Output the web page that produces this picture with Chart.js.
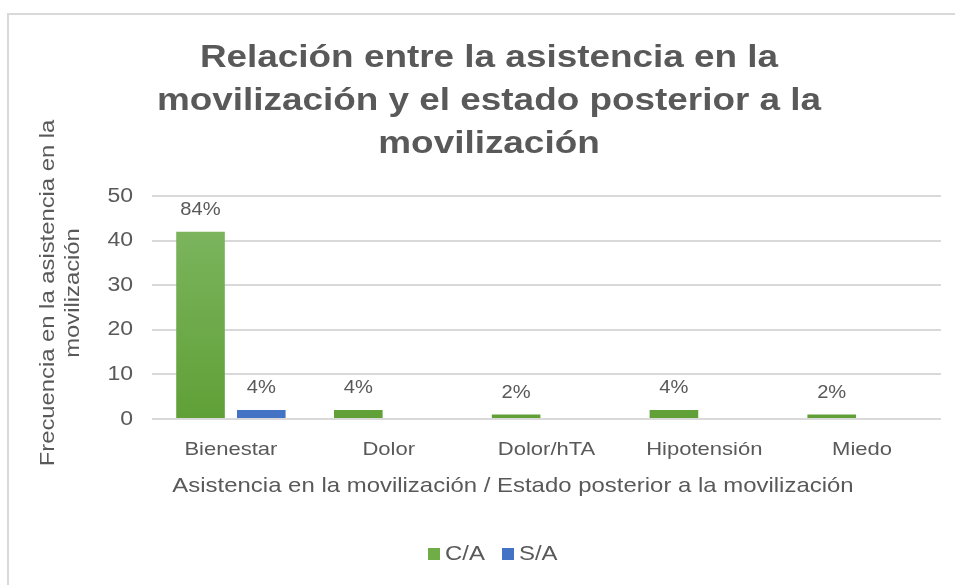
<!DOCTYPE html>
<html>
<head>
<meta charset="utf-8">
<script src="https://cdn.jsdelivr.net/npm/chart.js@4.4.1/dist/chart.umd.min.js"></script>
<style>
    html, body { margin: 0; padding: 0; background: #fff; }
    #wrap { position: relative; width: 955px; height: 585px; overflow: hidden; }
    #frame { position: absolute; left: 7px; top: 13px; width: 1000px; height: 700px; border: 2px solid #d9d9d9; box-sizing: border-box; }
    canvas { position: absolute; left: 0; top: 0; }
</style>
</head>
<body>
<div id="wrap">
    <div id="frame"></div>
    <canvas id="chart" width="955" height="585"></canvas>
</div>
<script>
// datos
const categorias = ["Bienestar", "Dolor", "Dolor/hTA", "Hipotensión", "Miedo"];
const conAsistencia = [42, 2, 1, 2, 1];
const sinAsistencia = [2, null, null, null, null];
const etiquetasCA = ["84%", "4%", "2%", "4%", "2%"];
const etiquetasSA = ["4%", "", "", "", ""];
const ticksY = [0, 10, 20, 30, 40, 50];

const titulo = ["Relación entre la asistencia en la", "movilización y el estado posterior a la", "movilización"];
const tituloY = ["Frecuencia en la asistencia en la", "movilización"];
const tituloX = "Asistencia en la movilización / Estado posterior a la movilización";

const GRIS = "#595959";
const FUENTE = "'Liberation Sans', Arial, sans-serif";

// el texto del original sale ensanchado en horizontal
function texto(c, s, x, y, ancho) {
    c.save();
    c.translate(x, y);
    c.scale(ancho, 1);
    c.fillText(s, 0, 0);
    c.restore();
}

// degradado verde de las barras C/A
function verde(ctx) {
    const area = ctx.chart.chartArea;
    if (!area) return "#70ad47";
    const g = ctx.chart.ctx.createLinearGradient(0, area.top + 36, 0, area.bottom);
    g.addColorStop(0, "#7bb45d");
    g.addColorStop(1, "#60a037");
    return g;
}

// textos: titulo, ticks, titulos de ejes, etiquetas, leyenda
const textos = {
    id: "textos",
    afterDatasetsDraw(chart) {
        const c = chart.ctx;
        const sx = chart.scales.x;
        const sy = chart.scales.y;
        c.save();
        c.fillStyle = GRIS;
        c.textBaseline = "middle";

        // ticks eje y
        c.textAlign = "right";
        c.font = "20px " + FUENTE;
        sy.ticks.forEach((t, i) => {
            texto(c, String(t.value), 133, sy.getPixelForTick(i), 1.15);
        });

        c.textAlign = "center";
        // ticks eje x
        c.font = "18.5px " + FUENTE;
        sx.ticks.forEach((t, i) => {
            texto(c, categorias[t.value], sx.getPixelForTick(i), 450, 1.19);
        });

        // etiquetas de datos
        c.font = "19px " + FUENTE;
        [etiquetasCA, etiquetasSA].forEach((lbls, di) => {
            const meta = chart.getDatasetMeta(di);
            meta.data.forEach((bar, i) => {
                if (!lbls[i]) return;
                texto(c, lbls[i], bar.x, bar.y - 22, 1.06);
            });
        });

        // titulo
        c.font = "bold 31px " + FUENTE;
        titulo.forEach((t, i) => texto(c, t, 489, 58 + i * 43, 1.19));

        // titulo eje x
        c.font = "21px " + FUENTE;
        texto(c, tituloX, 513, 486, 1.14);

        // titulo eje y
        c.save();
        c.translate(0, 293);
        c.rotate(-Math.PI / 2);
        c.font = "20px " + FUENTE;
        tituloY.forEach((t, i) => texto(c, t, 0, 48 + i * 25, 1.19));
        c.restore();

        // leyenda
        const items = [["C/A", "#70ad47", 428], ["S/A", "#4472c4", 502]];
        c.textAlign = "left";
        c.font = "21px " + FUENTE;
        items.forEach(([txt, col, x]) => {
            c.fillStyle = col;
            c.fillRect(x, 548, 12, 12);
            c.fillStyle = GRIS;
            texto(c, txt, x + 17, 554, 1.14);
        });
        c.restore();
    }
};

new Chart(document.getElementById("chart"), {
    type: "bar",
    data: {
        labels: categorias,
        datasets: [
            {
                label: "C/A",
                data: conAsistencia,
                backgroundColor: verde,
                categoryPercentage: 0.77,
                barPercentage: 0.8,
            },
            {
                label: "S/A",
                data: sinAsistencia,
                backgroundColor: "#4472c4",
                categoryPercentage: 0.77,
                barPercentage: 0.8,
            },
        ],
    },
    options: {
        responsive: false,
        animation: false,
        layout: { padding: { top: 196, right: 14, bottom: 106, left: 0 } },
        plugins: {
            legend: { display: false },
            title: { display: false },
            tooltip: { enabled: false },
        },
        scales: {
            x: {
                grid: { display: false, drawTicks: false },
                border: { display: false },
                ticks: { display: false },
                afterFit(s) { s.height = 60; },
            },
            y: {
                min: 0,
                max: 50,
                afterBuildTicks(s) { s.ticks = ticksY.map(v => ({ value: v })); },
                grid: { color: "#d9d9d9", lineWidth: 2, drawTicks: false },
                border: { display: false },
                ticks: { display: false },
                afterFit(s) { s.width = 152; },
            },
        },
    },
    plugins: [textos],
});
</script>
</body>
</html>
